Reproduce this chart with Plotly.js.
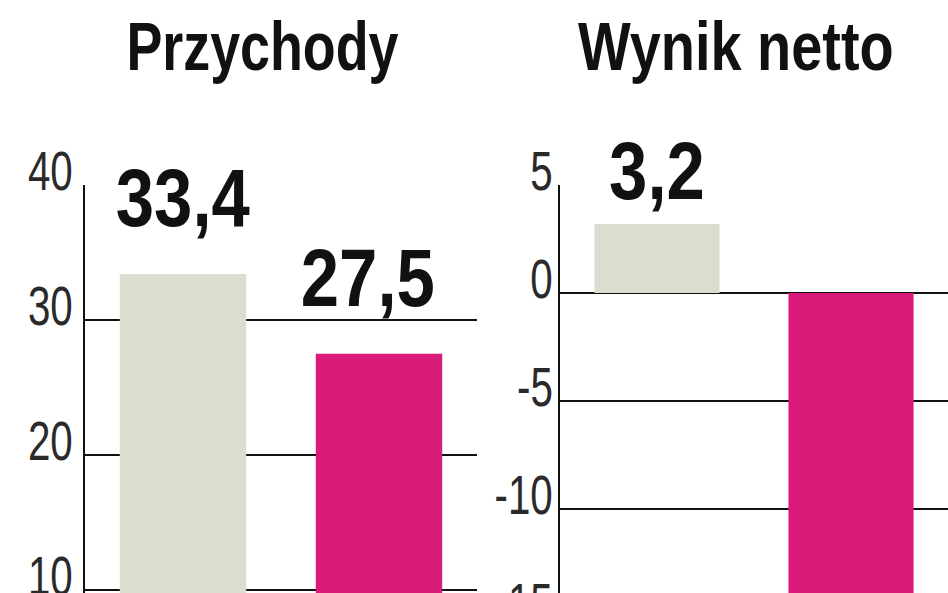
<!DOCTYPE html>
<html>
<head>
<meta charset="utf-8">
<script src="https://cdn.plot.ly/plotly-3.0.1.min.js"></script>
<style>
html,body{margin:0;padding:0;width:948px;height:593px;overflow:hidden;background:#fff;}
#wrap{width:948px;height:593px;overflow:hidden;position:relative;}
#chart{width:948px;height:680px;}
</style>
</head>
<body>
<div id="wrap"><div id="chart"></div></div>
<script>
// ---- data ----
const categories = ['poprzednio', 'obecnie'];
const przychody = [33.4, 27.5];
const wynikNetto = [3.2, -17.2];
const barColors = ['#dcdccf', '#d81b78'];
const panelTitles = ['Przychody', 'Wynik netto'];
const ticksPrzychody = [10, 20, 30, 40];
const ticksWynik = [-15, -10, -5, 0, 5];

// ---- layout constants ----
const W = 948, H = 680, MT = 185, MB = 20;
const plotH = H - MT - MB;
const fontFam = 'Liberation Sans, Arial, sans-serif';
const fmt = v => String(v).replace('.', ',');

const traces = [
  {type:'bar', x:categories, y:przychody, xaxis:'x', yaxis:'y',
   marker:{color:barColors, line:{width:0}}, hoverinfo:'skip', cliponaxis:true},
  {type:'bar', x:categories, y:wynikNetto, xaxis:'x2', yaxis:'y2',
   marker:{color:barColors, line:{width:0}}, hoverinfo:'skip', cliponaxis:true}
];

const yCommon = {
  showgrid:true, gridcolor:'#111', gridwidth:2,
  showline:true, linecolor:'#111', linewidth:2,
  zeroline:false, ticks:'',
  tickfont:{family:fontFam, size:56, color:'#2a2a2a'},
  fixedrange:true
};
const xCommon = {
  showticklabels:false, showgrid:false, zeroline:false, showline:false,
  ticks:'', range:[-0.5, 1.5], fixedrange:true
};

const annotations = [];
const annScale = [];
panelTitles.forEach((t, i) => {
  annotations.push({
    text:'<b>'+t+'</b>', xref:'paper', yref:'paper',
    x: i === 0 ? 262/W : 736/W, y: 1 + (MT - 46)/plotH,
    xanchor:'center', yanchor:'middle', showarrow:false,
    font:{family:fontFam, size:69, color:'#111'}
  });
  annScale.push(i === 0 ? 0.78 : 0.81);
});
przychody.forEach((v, i) => {
  annotations.push({
    text:'<b>'+fmt(v)+'</b>', xref:'x', yref:'y', x:categories[i], y:v,
    xanchor:'center', yanchor:'bottom', yshift:29, xshift: i === 1 ? -11 : 0, showarrow:false,
    font:{family:fontFam, size:82, color:'#111'}
  });
  annScale.push(0.84);
});
wynikNetto.forEach((v, i) => {
  if (v > 0) {
    annotations.push({
      text:'<b>'+fmt(v)+'</b>', xref:'x2', yref:'y2', x:categories[i], y:v,
      xanchor:'center', yanchor:'bottom', yshift:6, showarrow:false,
      font:{family:fontFam, size:82, color:'#111'}
    });
    annScale.push(0.84);
  }
});

const layout = {
  width:W, height:H,
  margin:{l:0, r:0, t:MT, b:MB, pad:0},
  paper_bgcolor:'#fff', plot_bgcolor:'rgba(0,0,0,0)',
  showlegend:false, bargap:0.355,
  xaxis:Object.assign({}, xCommon, {domain:[85/W, 477/W], anchor:'y'}),
  xaxis2:Object.assign({}, xCommon, {domain:[560/W, 1], anchor:'y2'}),
  yaxis:Object.assign({}, yCommon, {anchor:'x', range:[40 - plotH/13.5, 40],
    tickvals:ticksPrzychody, ticktext:ticksPrzychody.map(String)}),
  yaxis2:Object.assign({}, yCommon, {anchor:'x2', range:[5 - plotH/21.6, 5],
    tickvals:ticksWynik, ticktext:ticksWynik.map(String)}),
  annotations:annotations
};

function condense(el, s, mode, dx, dy) {
  const b = el.getBBox();
  const cx = mode === 'end' ? b.x + b.width : b.x + b.width / 2;
  const prev = el.getAttribute('transform') || '';
  el.setAttribute('transform', prev + ' translate(' + (cx + (dx || 0)) + ',' + (dy || 0) + ') scale(' + s + ',1) translate(' + (-cx) + ',0)');
}

Plotly.newPlot('chart', traces, layout, {displayModeBar:false, staticPlot:true}).then(gd => {
  gd.querySelectorAll('g.annotation').forEach(g => {
    const idx = +g.getAttribute('data-index');
    const t = g.querySelector('text.annotation-text');
    if (t) condense(t, annScale[idx], 'middle', 0, 0);
  });
  gd.querySelectorAll('g.ytick text').forEach(t => condense(t, 0.72, 'end', 1, -15));
  gd.querySelectorAll('g.y2tick text').forEach(t => condense(t, 0.72, 'end', 6, -15));
});
</script>
</body>
</html>
